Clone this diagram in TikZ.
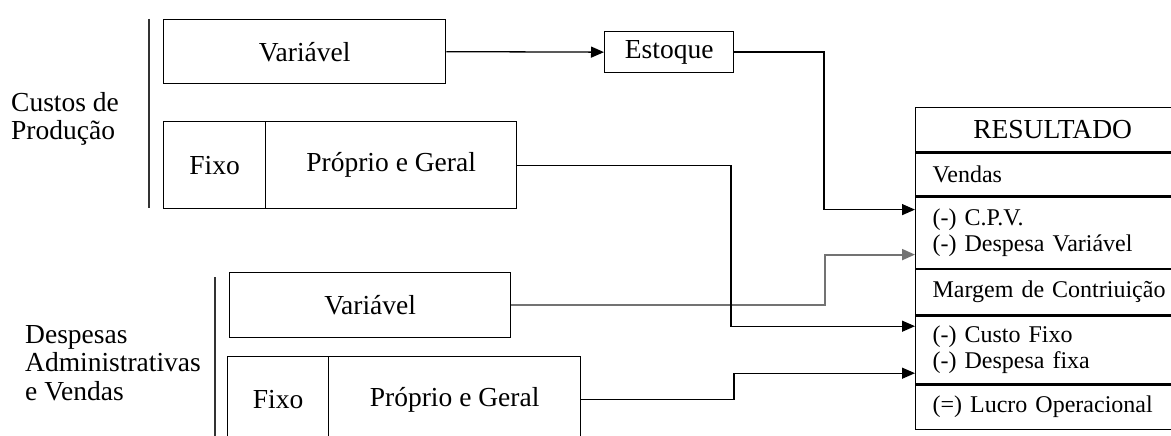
\documentclass[tikz,border=0pt]{standalone}
\usepackage{fontspec}
\setmainfont{Liberation Serif}
\usetikzlibrary{arrows.meta,calc}
\begin{document}
\begin{tikzpicture}[x=1pt,y=-1pt,
  font=\fontsize{27.5}{28.5}\selectfont,
  box/.style={draw,line width=1.3pt,inner sep=0pt,anchor=north west},
  row/.style={draw,line width=1.3pt,anchor=north west,inner ysep=0pt,inner xsep=17pt,text width=240pt,font=\fontsize{24}{26.5}\selectfont},
  arr/.style={line width=1.3pt,-{Triangle[length=13pt,width=11pt]}},
  arrgray/.style={arr,draw=black!55,line width=2pt},
  bar/.style={line width=1.4pt,draw=black!80}]
\clip (0,0) rectangle (1171,436);
\fill[white] (0,0) rectangle (1171,436);
% left labels
\node[anchor=west,align=left,inner sep=0pt] (lab1) at (11,119) {Custos de\\Produção};
\node[anchor=west,align=left,inner sep=0pt] (lab2) at (25,363) {Despesas\\Administrativas\\e Vendas};
\draw[bar] (149,19) -- (149,208);
\draw[bar] (215,277) -- (215,440);
% production cost boxes
\node[box,minimum width=282pt,minimum height=64pt] (pv1) at (163,19) {Variável};
\node[box,minimum width=102pt,minimum height=87pt] (fx1) at (163,121) {Fixo};
\node[box,minimum width=251pt,minimum height=87pt] (pg1) at (265,121) {Próprio e Geral};
% expenses boxes
\node[box,minimum width=281pt,minimum height=65pt] (pv2) at (229,272) {Variável};
\node[box,minimum width=101pt,minimum height=86pt] (fx2) at (227,356) {Fixo};
\node[box,minimum width=252pt,minimum height=86pt] (pg2) at (328,356) {Próprio e Geral};
% stock
\node[box,minimum width=129pt,minimum height=41pt] (est) at (604,31) {Estoque};
% result table
\node[row,align=center,minimum height=44pt,font=\fontsize{27.5}{28.5}\selectfont] (r0) at (915,107) {RESULTADO};
\node[row,align=left,minimum height=43pt] (r1) at (r0.south west) {Vendas};
\node[row,align=left,minimum height=71pt] (r2) at (r1.south west) {(-) C.P.V.\\(-) Despesa Variável};
\node[row,align=left,minimum height=45pt] (r3) at (r2.south west) {Margem de Contriuição};
\node[row,align=left,minimum height=68pt] (r4) at (r3.south west) {(-) Custo Fixo\\(-) Despesa fixa};
\node[row,align=left,minimum height=44pt] (r5) at (r4.south west) {(=) Lucro Operacional};
% arrow targets
\coordinate (cpv) at ($(r2.north west)+(0,13)$);
\coordinate (dvar) at ($(r2.north west)+(0,58)$);
\coordinate (cfix) at ($(r4.north west)+(0,11)$);
\coordinate (dfix) at ($(r4.north west)+(0,58)$);
% connectors
\draw[arr] (pv1.east) -- (est.west);
\draw[arr] (est.east) -| ([xshift=-91pt]cpv) -- (cpv);
\draw[arrgray] (pv2.east) -| ([xshift=-90pt]dvar) -- (dvar);
\draw[arr] (pg1.east) -| ([xshift=-184pt]cfix) -- (cfix);
\draw[arr] (pg2.east) -| ([xshift=-181pt]dfix) -- (dfix);
\end{tikzpicture}
\end{document}
